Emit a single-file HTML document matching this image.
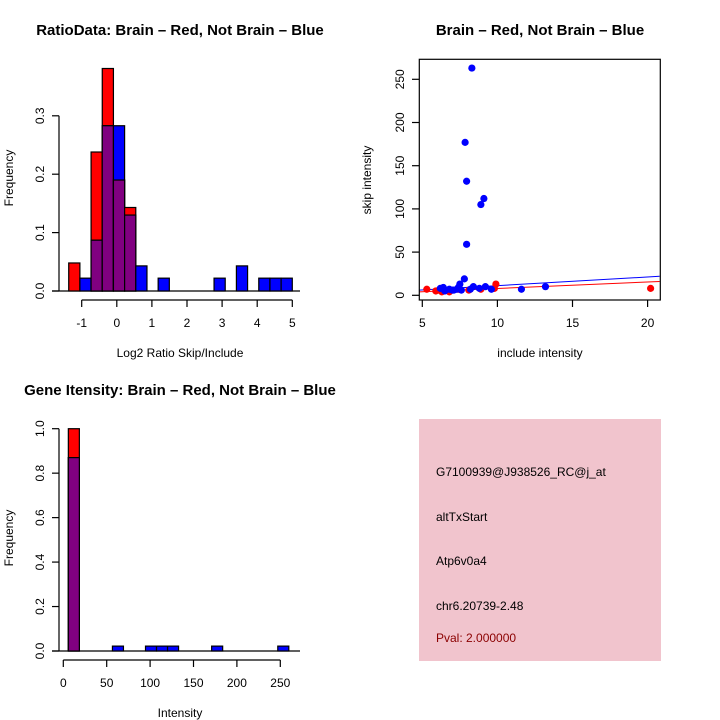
<!DOCTYPE html>
<html><head><meta charset="utf-8"><style>
body{margin:0;background:#fff}
svg{display:block;font-family:"Liberation Sans",sans-serif}
</style></head><body>
<svg id="c" width="720" height="720" viewBox="0 0 720 720">
<rect width="720" height="720" fill="#fff"/>
</svg>
<script>
// ---- Panel 1: ratio histogram data ----
const ratioBreakStart = -1.37;
const ratioBinWidth = 0.3185;
const ratioRed =  [0.048,0,0.238,0.381,0.19,0.143,0,0,0,0,0,0,0,0,0,0,0,0,0,0];
const ratioBlue = [0,0.022,0.087,0.283,0.283,0.13,0.043,0,0.022,0,0,0,0,0.022,0,0.043,0,0.022,0.022,0.022];
const ratioXTicks = [-1,0,1,2,3,4,5];
const ratioYTicks = [0,0.1,0.2,0.3];
const ratioYLabels = ["0.0","0.1","0.2","0.3"];
// ---- Panel 2: scatter data ----
const blueX = [8.3,7.85,7.95,9.1,8.9,7.95,7.8,7.5,6.2,6.4,6.8,7.0,7.3,7.6,8.4,8.2,8.8,9.2,9.6,11.6,13.2,6.5,7.1,7.4];
const blueY = [263,177,132,112,105,59,19,13,8,9,7,6,7,6,10,7,8,10,7,7,10,5,6,9];
const redX = [5.3,5.9,6.1,6.3,8.1,8.9,9.8,9.9,20.2,6.8,7.4];
const redY = [7,5,6,4,6,7,8,13,8,4,7];
const blueLine = [[4.8,6],[20.8,22]];
const redLine = [[4.8,4],[20.8,16]];
const scatXTicks = [5,10,15,20];
const scatYTicks = [0,50,100,150,200,250];
// ---- Panel 3: intensity histogram ----
const intBreakStart = 5.8;
const intBinWidth = 12.7;
const intRed =  [1.0,0,0,0,0,0,0,0,0,0,0,0,0,0,0,0,0,0,0,0];
const intBlue = [0.87,0,0,0,0.022,0,0,0.022,0.022,0.022,0,0,0,0.022,0,0,0,0,0,0.022];
const intXTicks = [0,50,100,150,200,250];
const intYTicks = [0,0.2,0.4,0.6,0.8,1.0];
const intYLabels = ["0.0","0.2","0.4","0.6","0.8","1.0"];

const NS="http://www.w3.org/2000/svg";
const svg=document.getElementById('c');
function mk(tag,attrs,parent){const e=document.createElementNS(NS,tag);for(const k in attrs)e.setAttribute(k,attrs[k]);(parent||svg).appendChild(e);return e;}
function txt(s,x,y,attrs){const t=mk('text',Object.assign({x:x,y:y,'font-size':12,fill:'#000'},attrs||{}));t.textContent=s;return t;}

function hist(g,xs,ys,start,w,red,blue){
  for(let i=0;i<red.length;i++){
    const x0=xs(start+i*w),x1=xs(start+(i+1)*w);
    const r=red[i],b=blue[i],m=Math.min(r,b);
    if(r>0){const e=mk('rect',{x:x0,y:ys(r),width:x1-x0,height:ys(0)-ys(r),fill:'#f00',stroke:'#000','stroke-width':1.2},g);
      }
    if(b>0){const e=mk('rect',{x:x0,y:ys(b),width:x1-x0,height:ys(0)-ys(b),fill:'#00f',stroke:'#000','stroke-width':1.2},g);
      }
    if(m>0){const e=mk('rect',{x:x0,y:ys(m),width:x1-x0,height:ys(0)-ys(m),fill:'#800080',stroke:'#000','stroke-width':1.2},g);
      }
  }
}
function yaxis(g,x,ys,ticks,labels,x0){
  mk('line',{x1:x,x2:x,y1:ys(ticks[0]),y2:ys(ticks[ticks.length-1]),stroke:'#000','stroke-width':1.2},g);
  ticks.forEach((t,i)=>{const y=ys(t);mk('line',{x1:x-7,x2:x,y1:y,y2:y,stroke:'#000','stroke-width':1.2},g);
    const l=txt(labels[i],0,0,{transform:`translate(${x0},${y}) rotate(-90)`,'text-anchor':'middle'});g.appendChild(l);});
}
function xaxis(g,y,xs,ticks,labels,ly){
  mk('line',{x1:xs(ticks[0]),x2:xs(ticks[ticks.length-1]),y1:y,y2:y,stroke:'#000','stroke-width':1.2},g);
  ticks.forEach((t,i)=>{const x=xs(t);mk('line',{x1:x,x2:x,y1:y,y2:y+7,stroke:'#000','stroke-width':1.2},g);
    const l=txt(labels[i],x,ly,{'text-anchor':'middle'});g.appendChild(l);});
}

// Panel 1
{
const g=mk('g',{});
const xs=v=>81.7+(v+1)*35.1, ys=v=>291-v*584;
mk('line',{x1:52,x2:300,y1:291,y2:291,stroke:'#000','stroke-width':1.2},g);
hist(g,xs,ys,ratioBreakStart,ratioBinWidth,ratioRed,ratioBlue);
yaxis(g,59,ys,ratioYTicks,ratioYLabels,44);
xaxis(g,300,xs,ratioXTicks,ratioXTicks.map(String),327);
const t=txt('RatioData: Brain – Red, Not Brain – Blue',180,35,{'text-anchor':'middle','font-weight':'bold','font-size':15});g.appendChild(t);
const xl=txt('Log2 Ratio Skip/Include',180,357,{'text-anchor':'middle'});g.appendChild(xl);
const yl=txt('Frequency',0,0,{transform:'translate(13,178) rotate(-90)','text-anchor':'middle'});g.appendChild(yl);
}
// Panel 2
{
const g=mk('g',{});
const xs=v=>422.3+(v-5)*15.02, ys=v=>295.3-v*0.864;
const cp=mk('clipPath',{id:'cp'},g);mk('rect',{x:419.3,y:59.3,width:241,height:240.7},cp);
const lg=mk('g',{'clip-path':'url(#cp)'},g);
const bl=mk('line',{x1:xs(blueLine[0][0]),y1:ys(blueLine[0][1]),x2:xs(blueLine[1][0]),y2:ys(blueLine[1][1]),stroke:'#00f','stroke-width':1},lg);

const rl=mk('line',{x1:xs(redLine[0][0]),y1:ys(redLine[0][1]),x2:xs(redLine[1][0]),y2:ys(redLine[1][1]),stroke:'#f00','stroke-width':1},lg);

redX.forEach((x,i)=>{const c=mk('circle',{cx:xs(x),cy:ys(redY[i]),r:3.6,fill:'#f00'},g);
  });
blueX.forEach((x,i)=>{const c=mk('circle',{cx:xs(x),cy:ys(blueY[i]),r:3.6,fill:'#00f'},g);
  });
mk('rect',{x:419.3,y:59.3,width:241,height:240.7,fill:'none',stroke:'#000','stroke-width':1.2},g);
scatXTicks.forEach(t=>{const x=xs(t);mk('line',{x1:x,x2:x,y1:300,y2:307,stroke:'#000','stroke-width':1.2},g);txt(String(t),x,327,{'text-anchor':'middle'});});
scatYTicks.forEach(t=>{const y=ys(t);mk('line',{x1:412,x2:419.3,y1:y,y2:y,stroke:'#000','stroke-width':1.2},g);
  txt(String(t),0,0,{transform:`translate(404,${y}) rotate(-90)`,'text-anchor':'middle'});});
const t=txt('Brain – Red, Not Brain – Blue',540,35,{'text-anchor':'middle','font-weight':'bold','font-size':15});
const xl=txt('include intensity',540,357,{'text-anchor':'middle'});
const yl=txt('skip intensity',0,0,{transform:'translate(371,180) rotate(-90)','text-anchor':'middle'});
}
// Panel 3
{
const g=mk('g',{});
const xs=v=>63.3+v*0.868, ys=v=>651-v*222.3;
mk('line',{x1:52,x2:300,y1:651,y2:651,stroke:'#000','stroke-width':1.2},g);
hist(g,xs,ys,intBreakStart,intBinWidth,intRed,intBlue);
yaxis(g,59,ys,intYTicks,intYLabels,44);
xaxis(g,660,xs,intXTicks,intXTicks.map(String),687);
const t=txt('Gene Itensity: Brain – Red, Not Brain – Blue',180,395,{'text-anchor':'middle','font-weight':'bold','font-size':15});
const xl=txt('Intensity',180,717,{'text-anchor':'middle'});
const yl=txt('Frequency',0,0,{transform:'translate(13,538) rotate(-90)','text-anchor':'middle'});
}
// Panel 4
{
const g=mk('g',{});
mk('rect',{x:419,y:419,width:242,height:242,fill:'#f1c4cd'},g);
const lines=[['G7100939@J938526_RC@j_at',476,'#000','probe-id'],['altTxStart',521,'#000','event-type'],['Atp6v0a4',565,'#000','gene-name'],['chr6.20739-2.48',610,'#000','location'],['Pval: 2.000000',642,'#8b0000','p-value']];
lines.forEach(l=>{const t=txt(l[0],436,l[1],{fill:l[2]});
  
  });
}
</script>
</body></html>
